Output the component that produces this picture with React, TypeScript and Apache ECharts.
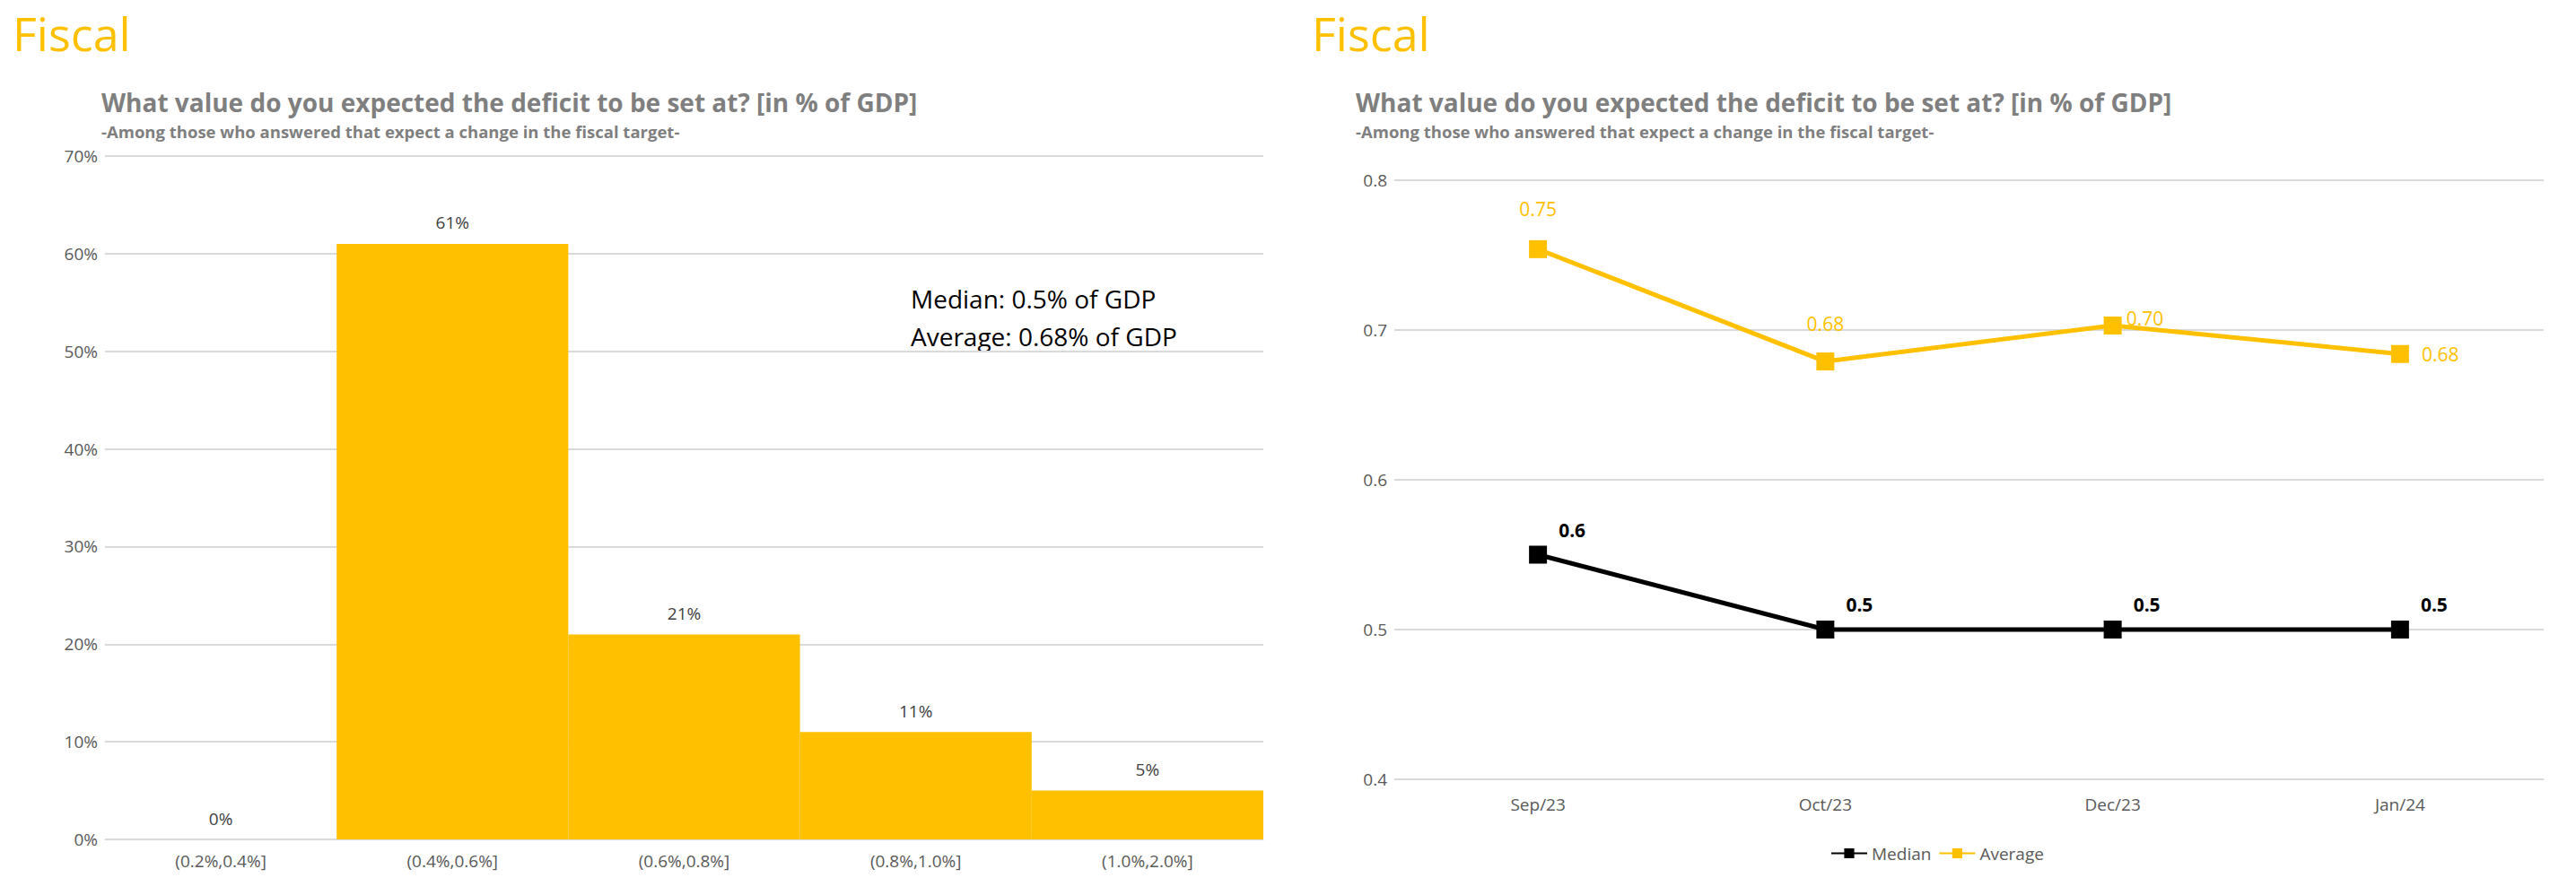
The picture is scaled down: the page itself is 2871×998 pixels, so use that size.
import React, { useEffect, useRef } from "react";
import * as echarts from "echarts";

const binCategories = ["(0.2%,0.4%]", "(0.4%,0.6%]", "(0.6%,0.8%]", "(0.8%,1.0%]", "(1.0%,2.0%]"];
const binValues = [0, 61, 21, 11, 5];
const dateCategories = ["Sep/23", "Oct/23", "Dec/23", "Jan/24"];
const medianValues = [0.55, 0.5, 0.5, 0.5];
const medianLabels = ["0.6", "0.5", "0.5", "0.5"];
const averageValues = [0.754, 0.679, 0.703, 0.684];
const averageLabels = ["0.75", "0.68", "0.70", "0.68"];

const FONT = "'Open Sans', sans-serif";
const YEL = "#FFC000";
const GRAY = "#7F7F7F";

export default function App() {
  const ref = useRef<HTMLDivElement>(null);
  useEffect(() => {
    document.body.style.margin = "0";
    const chart = echarts.init(ref.current!, null, { renderer: "svg" });
    const title = "What value do you expected the deficit to be set at? [in % of GDP]";
    const sub = "-Among those who answered that expect a change in the fiscal target-";
    const avgPos: any[] = [
      { position: "top", distance: 24 },
      { position: "top", distance: 22 },
      { position: "right", offset: [0, -8] },
      { position: "right", distance: 14 },
    ];
    chart.setOption({
      animation: false,
      textStyle: { fontFamily: FONT },
      graphic: [
        { type: "text", left: 14, top: 10, style: { text: "Fiscal", fill: YEL, font: `52px ${FONT}` } },
        { type: "text", left: 1462, top: 10, style: { text: "Fiscal", fill: YEL, font: `52px ${FONT}` } },
        { type: "text", left: 113, top: 100, style: { text: title, fill: GRAY, font: `bold 28px ${FONT}` } },
        { type: "text", left: 113, top: 137, style: { text: sub, fill: GRAY, font: `bold 18.5px ${FONT}` } },
        { type: "text", left: 1511, top: 100, style: { text: title, fill: GRAY, font: `bold 28px ${FONT}` } },
        { type: "text", left: 1511, top: 137, style: { text: sub, fill: GRAY, font: `bold 18.5px ${FONT}` } },
        { type: "text", left: 1015, top: 312, style: { text: "Median: 0.5% of GDP\nAverage: 0.68% of GDP", fill: "#000", font: `28px ${FONT}`, lineHeight: 42 } },
      ],
      legend: {
        data: ["Median", "Average"], bottom: 32, left: 2035, itemWidth: 40, itemHeight: 14,
        textStyle: { fontSize: 19, color: "#595959" },
      },
      grid: [
        { left: 117, top: 174, width: 1291, height: 762 },
        { left: 1554, top: 201, width: 1281, height: 668 },
      ],
      xAxis: [
        { type: "category", gridIndex: 0, data: binCategories, axisTick: { show: false },
          axisLine: { lineStyle: { color: "#D9D9D9" } }, axisLabel: { fontSize: 19, color: "#595959", margin: 14 } },
        { type: "category", gridIndex: 1, data: dateCategories, axisTick: { show: false },
          axisLine: { lineStyle: { color: "#D9D9D9" } }, axisLabel: { fontSize: 19, color: "#595959", margin: 18 } },
      ],
      yAxis: [
        { type: "value", gridIndex: 0, min: 0, max: 70, interval: 10,
          axisLabel: { formatter: "{value}%", fontSize: 19, color: "#595959" },
          splitLine: { lineStyle: { color: "#D9D9D9", width: 2 } } },
        { type: "value", gridIndex: 1, min: 0.4, max: 0.8, interval: 0.1,
          axisLabel: { formatter: (v: number) => v.toFixed(1), fontSize: 19, color: "#595959" },
          splitLine: { lineStyle: { color: "#D9D9D9", width: 2 } } },
      ],
      series: [
        { type: "bar", xAxisIndex: 0, yAxisIndex: 0, data: binValues, barCategoryGap: 0,
          itemStyle: { color: YEL },
          label: { show: true, position: "top", formatter: "{c}%", fontSize: 19, color: "#404040", distance: 14 } },
        { name: "Median", type: "line", xAxisIndex: 1, yAxisIndex: 1, data: medianValues,
          symbol: "rect", symbolSize: 20, lineStyle: { color: "#000", width: 5 }, itemStyle: { color: "#000" },
          label: { show: true, position: "right", offset: [8, -28], fontWeight: "bold", fontSize: 21, color: "#000",
            formatter: (p: any) => medianLabels[p.dataIndex] } },
        { name: "Average", type: "line", xAxisIndex: 1, yAxisIndex: 1,
          data: averageValues.map((v, i) => ({ value: v, label: avgPos[i] })),
          symbol: "rect", symbolSize: 20, lineStyle: { color: YEL, width: 5 }, itemStyle: { color: YEL },
          label: { show: true, fontSize: 21, color: YEL,
            formatter: (p: any) => averageLabels[p.dataIndex] } },
      ],
    });
    return () => chart.dispose();
  }, []);
  return <div ref={ref} style={{ width: 2871, height: 998 }} />;
}
